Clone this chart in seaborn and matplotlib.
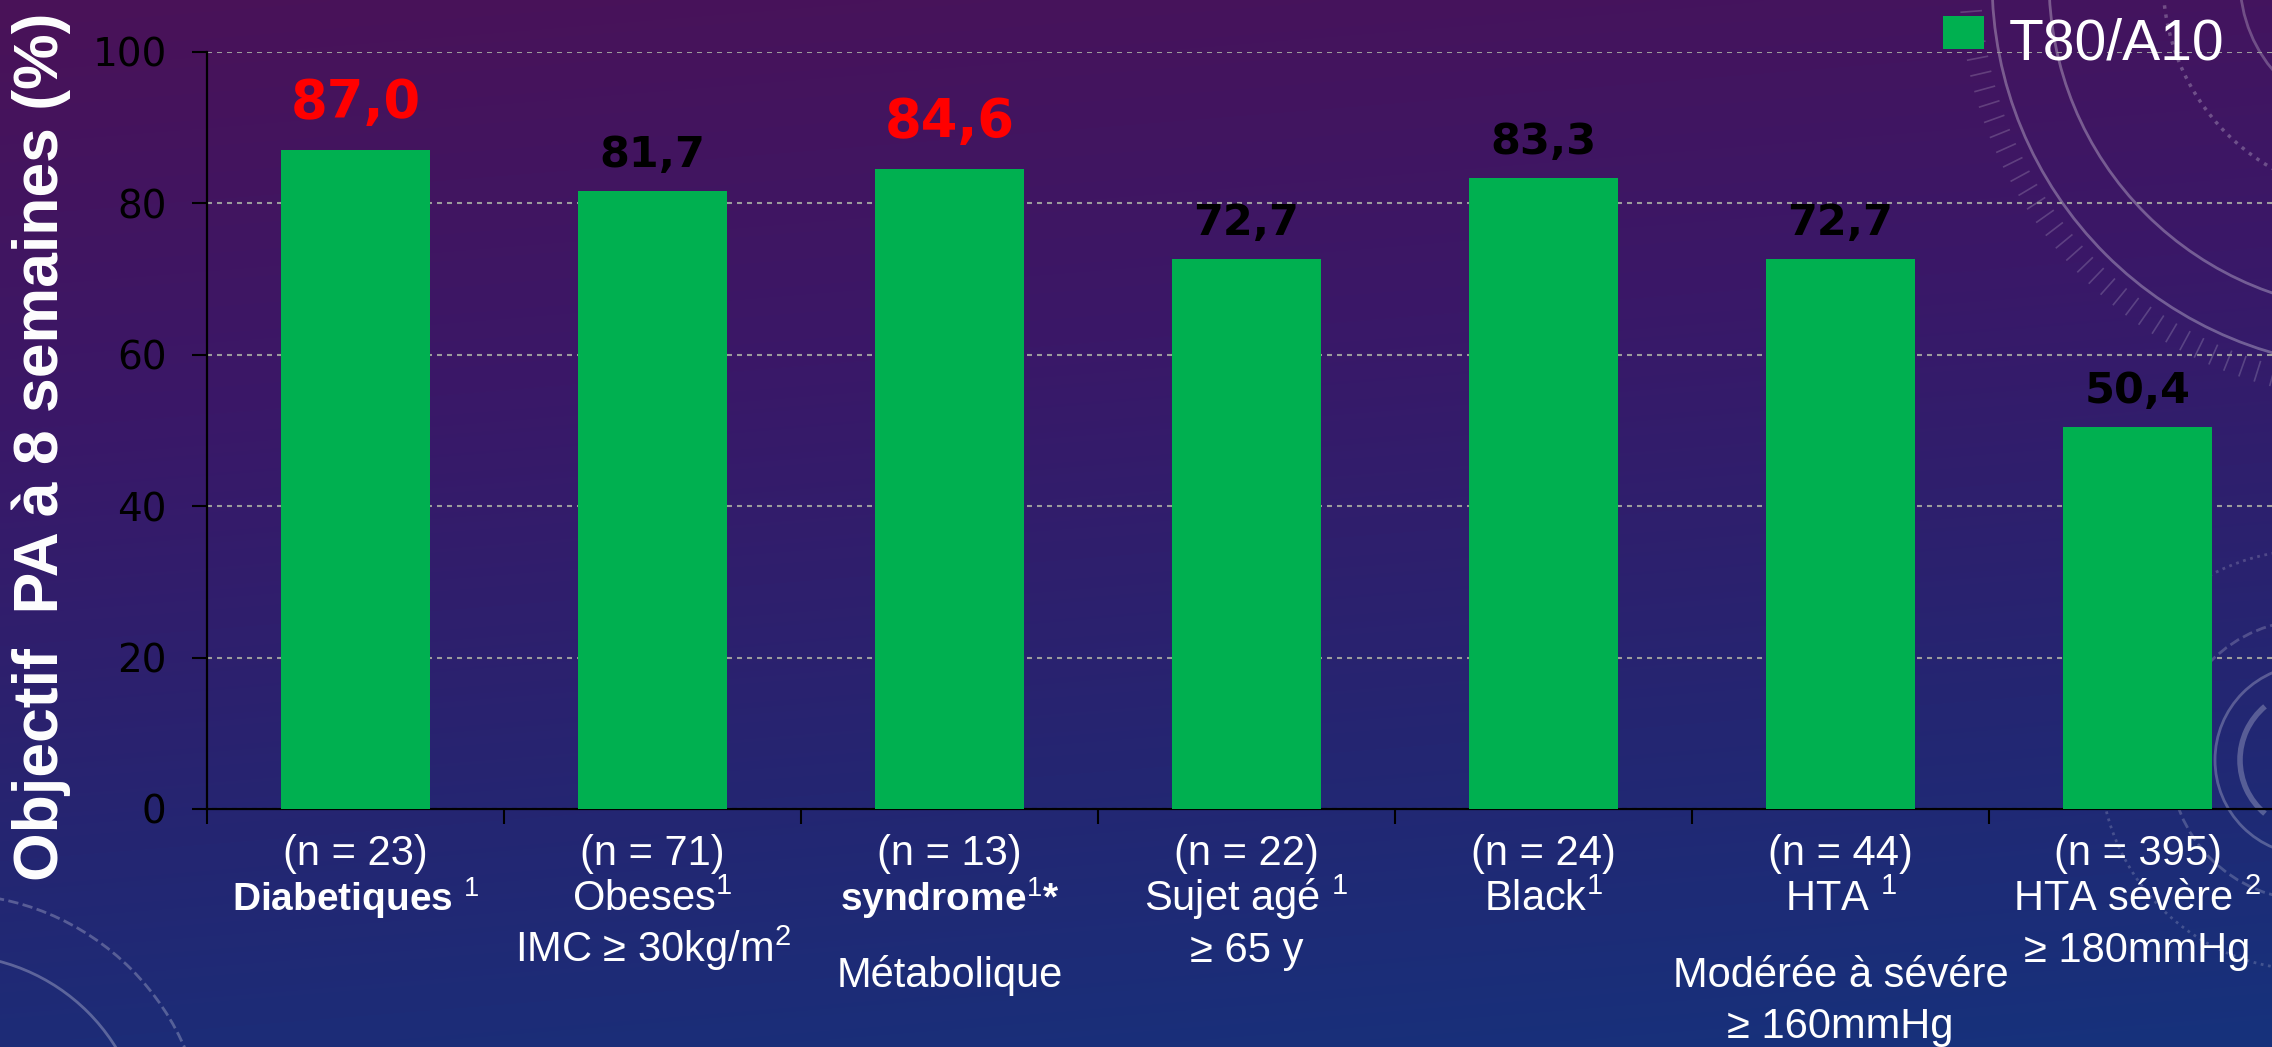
import numpy as np
import pandas as pd
import matplotlib
matplotlib.use("Agg")
import matplotlib.pyplot as plt
from matplotlib.patches import Patch, Rectangle, Circle, Arc
from matplotlib.legend_handler import HandlerPatch
import seaborn as sns

# ---------------------------------------------------------------- data
groups = ["Diabetiques", "Obeses", "Syndrome métabolique", "Sujet agé",
          "Black", "HTA modérée à sévère", "HTA sévère"]
target_pct = [87.0, 81.7, 84.6, 72.7, 83.3, 72.7, 50.4]
n_patients = [23, 71, 13, 22, 24, 44, 395]
group_lines = [
    ["Diabetiques $^{1}$"],
    ["Obeses$^{1}$", "IMC ≥ 30kg/m$^{2}$"],
    ["syndrome$^{1}$*", "Métabolique"],
    ["Sujet agé $^{1}$", "≥ 65 y"],
    ["Black$^{1}$"],
    ["HTA $^{1}$", "Modérée à sévére", "≥ 160mmHg"],
    ["HTA sévère $^{2}$", "≥ 180mmHg"],
]
emphasised = ["Diabetiques", "Syndrome métabolique"]
series_name = "T80/A10"
y_ticks = [0, 20, 40, 60, 80, 100]
y_title = "Objectif  PA à 8 semaines (%)"

# ---------------------------------------------------------------- figure
W, H, DPI = 2272, 1047, 100
GREEN = "#00B050"
SANS = ["Liberation Sans", "DejaVu Sans"]
plt.rcParams["mathtext.fontset"] = "custom"
plt.rcParams["mathtext.rm"] = "Liberation Sans"
plt.rcParams["mathtext.it"] = "Liberation Sans:italic"
plt.rcParams["mathtext.bf"] = "Liberation Sans:bold"
fig = plt.figure(figsize=(W / DPI, H / DPI), dpi=DPI)

# gradient backdrop (purple at the top, deep blue at the bottom)
bg = fig.add_axes([0, 0, 1, 1], zorder=-10)
yy, xx = np.mgrid[0:1:300j, 0:1:600j]
s = np.clip(0.85 * yy + 0.15 * xx, 0, 1)
stops = np.array([[0.00, 74, 18, 88],
                  [0.35, 58, 24, 104],
                  [0.70, 36, 38, 114],
                  [1.00, 22, 50, 124]])
rgb = np.stack([np.interp(s, stops[:, 0], stops[:, c]) / 255 for c in (1, 2, 3)], axis=-1)
bg.imshow(rgb, aspect="auto", extent=(0, W, H, 0), interpolation="bicubic")
bg.set_xlim(0, W)
bg.set_ylim(H, 0)
bg.axis("off")

# faint dial ornaments
rings = [
    (2380, -20, 388, 2.0, "-", 0.30),
    (2380, -20, 331, 2.0, "-", 0.30),
    (2380, -20, 217, 2.5, ":", 0.25),
    (2380, -20, 140, 2.0, "-", 0.25),
    (2310, 760, 95, 2.0, "-", 0.25),
    (2310, 760, 140, 2.0, "--", 0.20),
    (2310, 760, 210, 2.0, ":", 0.18),
    (-50, 1150, 195, 2.0, "-", 0.28),
    (-50, 1150, 256, 2.0, "--", 0.25),
]
for cx, cy, r, lw, ls, a in rings:
    bg.add_patch(Circle((cx, cy), r, fill=False, ec="white", lw=lw, ls=ls, alpha=a))
bg.add_patch(Arc((2310, 760), 140, 140, theta1=130, theta2=230, ec="white", lw=4, alpha=0.25))
bg.add_patch(Arc((-50, 1150), 324, 324, theta1=0, theta2=90, ec="white", lw=5, alpha=0.25))
for ang in np.arange(92, 200, 2.2):
    t = np.deg2rad(ang)
    r0, r1 = 400, 420
    bg.plot([2380 + r0 * np.cos(t), 2380 + r1 * np.cos(t)],
            [-20 + r0 * np.sin(t), -20 + r1 * np.sin(t)],
            color="white", lw=1.2, alpha=0.18)

# ---------------------------------------------------------------- bars
ax = fig.add_axes([207 / W, 1 - 809 / H, 7 * 297 / W, 757 / H])
ax.set_facecolor("none")
df = pd.DataFrame({"group": groups, "pct": target_pct})
sns.barplot(data=df, x="group", y="pct", color=GREEN, saturation=1,
            width=0.5, linewidth=0, ax=ax, zorder=3)
ax.set_xlim(-0.5, len(groups) - 0.5)
ax.set_ylim(0, 100)
ax.set_xlabel("")
ax.set_ylabel("")

ax.set_yticks(y_ticks)
ax.yaxis.grid(True, color="#9c9c9c", linestyle=(0, (2.4, 2.4)), linewidth=1.5)
ax.xaxis.grid(False)
ax.set_axisbelow(True)
for side in ("top", "right"):
    ax.spines[side].set_visible(False)
for side in ("left", "bottom"):
    ax.spines[side].set_color("black")
    ax.spines[side].set_linewidth(1.6)

ax.set_xticks([])
ax.set_xticks(np.arange(-0.5, len(groups), 1.0), minor=True)
ax.tick_params(axis="x", which="minor", direction="out", length=11, width=1.5,
               color="black", labelbottom=False)
ax.tick_params(axis="y", direction="out", length=11, width=1.5, color="black",
               pad=18, labelsize=28, labelcolor="black")
for lab in ax.get_yticklabels():
    lab.set_family("DejaVu Sans")

# value labels above the bars
for i, (name, v) in enumerate(zip(groups, target_pct)):
    hi = name in emphasised
    ax.annotate(f"{v:.1f}".replace(".", ","), xy=(i, v),
                xytext=(0, (32 if hi else 24) * 0.72), textcoords="offset points",
                ha="center", va="baseline", fontsize=38 if hi else 31,
                fontweight="bold", color="red" if hi else "black",
                family="DejaVu Sans", zorder=5)

# category captions under the axis
for i, (name, n) in enumerate(zip(groups, n_patients)):
    lines = [f"(n = {n})"] + group_lines[i]
    third = 178 if len(lines) > 2 and i in (2, 5) else 153
    rows_px = [56, 102, third, third + 51]
    for j, txt in enumerate(lines):
        bold = (j == 1 and name in emphasised)
        ax.annotate(txt, xy=(i, 0), xycoords=("data", "axes fraction"),
                    xytext=(0, -rows_px[j] * 0.72), textcoords="offset points",
                    ha="center", va="baseline", color="white",
                    fontsize=28 if bold else 30,
                    fontweight="bold" if bold else "normal",
                    family=SANS, annotation_clip=False)

# y-axis title
fig.text(41 / W, 1 - 447 / H, y_title, rotation=90, ha="center", va="center",
         fontsize=45, fontweight="bold", color="white", family=SANS)


# legend
def square_handle(legend, orig_handle, xdescent, ydescent, width, height, fontsize):
    return Rectangle((-xdescent, -ydescent + 0.22 * height), width, height)


leg = ax.legend(handles=[Patch(facecolor=GREEN, edgecolor="none", label=series_name)],
                loc="upper left", bbox_to_anchor=(1943 / W, 1 - 18 / H),
                bbox_transform=fig.transFigure, frameon=False,
                prop={"family": SANS, "size": 41},
                handlelength=0.72, handleheight=0.53, handletextpad=0.44,
                borderpad=0, borderaxespad=0,
                handler_map={Patch: HandlerPatch(patch_func=square_handle)})
for t in leg.get_texts():
    t.set_color("white")

fig.savefig("out.png", dpi=DPI)
